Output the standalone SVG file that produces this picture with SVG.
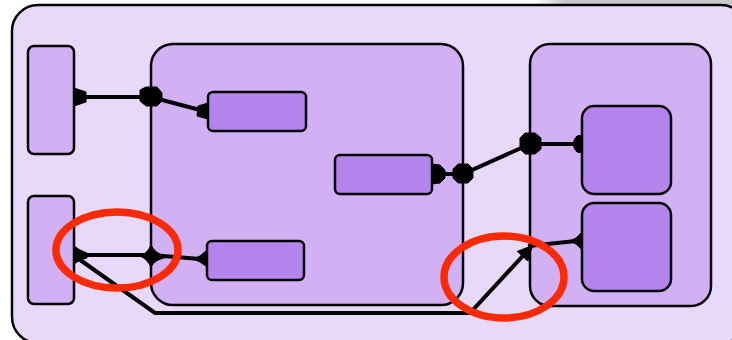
<svg xmlns="http://www.w3.org/2000/svg" width="732" height="340" viewBox="0 0 732 340">
<defs>
<style>
.outer{fill:#e8d8f9;stroke:#000;stroke-width:2.5}
.cont{fill:#d1b0f3;stroke:#000;stroke-width:2.5}
.node{fill:#b585ed;stroke:#000;stroke-width:2.5}
.side{fill:#d1b0f3;stroke:#000;stroke-width:2.5}
.wire{fill:none;stroke:#000;stroke-width:4;stroke-linejoin:miter}
.dec{fill:#000;stroke:#000;stroke-width:1;stroke-linejoin:round}
.mark{fill:none;stroke:#ff2a00;stroke-width:7.5}
</style>
<linearGradient id="sh" x1="0" y1="0" x2="1" y2="0">
<stop offset="0" stop-color="#c8c8c8" stop-opacity="0"/>
<stop offset="0.15" stop-color="#c8c8c8" stop-opacity="1"/>
<stop offset="1" stop-color="#c8c8c8" stop-opacity="1"/>
</linearGradient>
<marker id="arr" viewBox="0 0 10 10" refX="9" refY="5" markerWidth="4" markerHeight="4" orient="auto" markerUnits="strokeWidth">
<path d="M0,0 L10,5 L0,10 z" fill="#000"/>
</marker>
</defs>
<rect width="732" height="340" fill="#ffffff"/>
<rect x="535" y="0" width="197" height="5" fill="url(#sh)"/>
<g id="frame">
<rect class="outer" x="12" y="5" width="735" height="338" rx="26"/>
</g>
<g id="left1"><rect class="side" x="28" y="46" width="46" height="108" rx="6"/></g>
<g id="left2"><rect class="side" x="28" y="196" width="46" height="108" rx="6"/></g>
<g id="middle"><rect class="cont" x="151" y="44" width="312" height="261" rx="22"/></g>
<g id="right"><rect class="cont" x="530" y="44" width="181" height="262" rx="20"/></g>
<g id="nodeA"><rect class="node" x="208" y="92" width="98" height="39" rx="5"/></g>
<g id="nodeB"><rect class="node" x="335" y="155" width="97" height="39" rx="5"/></g>
<g id="nodeC"><rect class="node" x="207" y="241" width="97" height="39" rx="5"/></g>
<g id="nodeD"><rect class="node" x="582" y="106" width="89" height="88" rx="12"/></g>
<g id="nodeE"><rect class="node" x="582" y="203" width="89" height="88" rx="12"/></g>
<g id="connectors">
<polyline class="wire" points="80,97 151,97 200,110"/>
<polygon class="dec" points="74,88 86,92 86,102 74,106"/>
<polygon class="dec" points="140,90 146,87 157,87 162,93 162,101 157,106 146,106 140,101"/>
<polygon class="dec" points="208,103 198,106 197,116 208,119"/>
<polyline class="wire" points="438,174 463,174 530,144 578,144"/>
<polygon class="dec" points="432,164 440,165 445,170 445,178 440,183 432,184"/>
<polygon class="dec" points="453,169 458,164 468,164 473,169 473,178 468,183 458,183 453,178"/>
<polygon class="dec" points="520,138 525,133 535,133 541,138 541,149 535,154 525,154 520,149"/>
<polygon class="dec" points="582,135 577,136 574,140 574,148 577,152 582,153"/>
<polyline class="wire" points="80,255 151,255 200,259"/>
<polygon class="dec" points="74,246 80,250 87,253 87,258 80,260 74,264"/>
<path class="dec" d="M140,256 Q147,254 151,245 Q155,254 168,257 Q155,259 151,267 Q147,259 140,256 z"/>
<polygon class="dec" points="207,250 200,256 193,259 200,262 207,267"/>
<polyline class="wire" points="76,257 155,313 470,313 532,246" marker-end="url(#arr)" stroke-width="4.5"/>
<polyline class="wire" points="528,246 576,241"/>
<polygon class="dec" points="582,232 576,238 570,241 576,244 582,250"/>
</g>
<g id="highlights">
<ellipse class="mark" cx="117" cy="250" rx="61" ry="38"/>
<ellipse class="mark" cx="504" cy="277" rx="60" ry="41"/>
</g>
</svg>
